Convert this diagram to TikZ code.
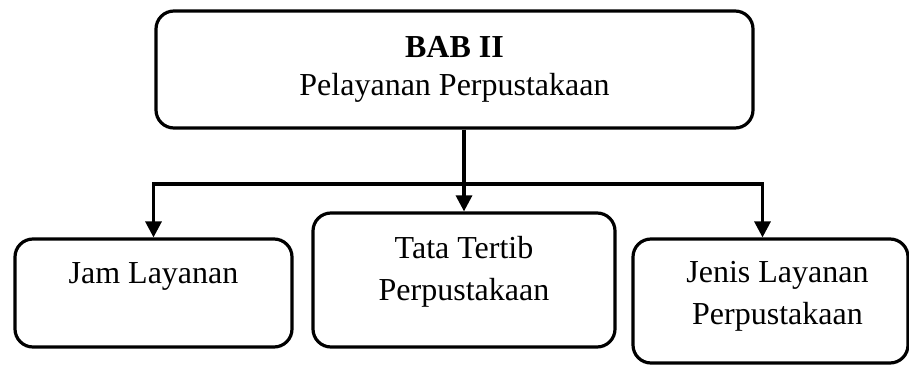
\documentclass[tikz,border=0pt]{standalone}
\usepackage{fontspec}
\setmainfont{Liberation Serif}
\usetikzlibrary{arrows.meta,positioning}

\begin{document}
\begin{tikzpicture}[x=1pt,y=1pt,
  box/.style={draw=black,line width=3.2pt,rounded corners=18pt,inner sep=0pt},
  boxtext/.style={align=center,inner sep=0pt,font=\fontsize{32}{42}\selectfont},
  arr/.style={-{Triangle[length=16pt,width=16pt]},line width=3.2pt}]
  \useasboundingbox (0,0) rectangle (909,365);
  \node[box,minimum width=597pt,minimum height=117pt,align=center,
        font=\fontsize{32}{38}\selectfont] (bab) at (454.5,295.5)
        {\textbf{BAB II}\\Pelayanan Perpustakaan};
  \node[box,minimum width=277pt,minimum height=108pt] (jam) at (153.5,72) {};
  \node[box,minimum width=302pt,minimum height=134pt] (tata) at (464,85) {};
  \node[box,minimum width=275pt,minimum height=124pt] (jenis) at (770.5,64) {};
  \node[boxtext,below=25pt of jam.north] (jamtxt) {Jam Layanan};
  \node[boxtext,below=25pt of tata.north] (tatatxt) {Tata Tertib\\Perpustakaan};
  \node[boxtext,below=24pt of jenis.north,xshift=7pt] (jenistxt)
        {Jenis Layanan\\Perpustakaan};
  \coordinate (bar) at (464,181);
  \draw[arr] (bab.south -| tata.north) -- (tata.north);
  \draw[arr] (bar) -| (jam.north);
  \draw[arr] (bar) -| ([xshift=-8pt]jenis.north);
\end{tikzpicture}
\end{document}
